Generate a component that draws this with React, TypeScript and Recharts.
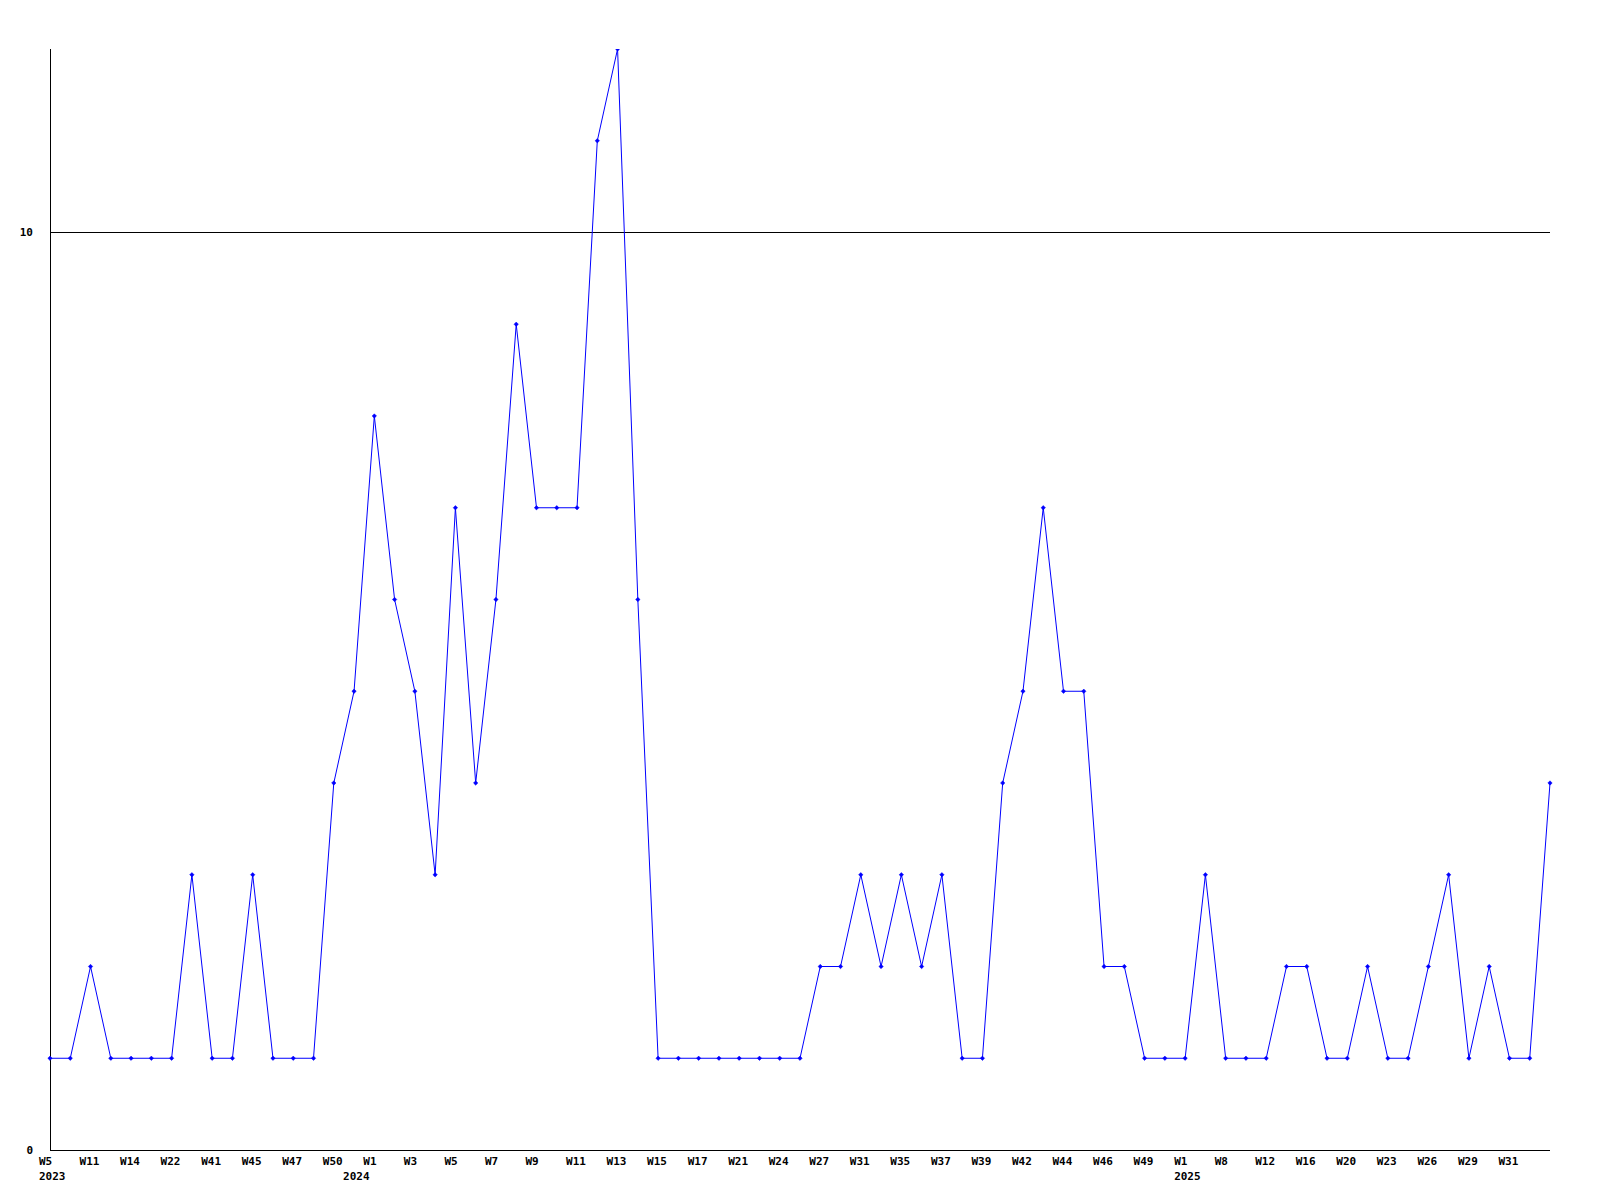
import React from 'react';
import { LineChart, Line, XAxis, YAxis, ReferenceLine } from 'recharts';

const weeks = [
  'W5', 'W8', 'W11', 'W13', 'W14', 'W18', 'W22', 'W30', 'W41', 'W43',
  'W45', 'W46', 'W47', 'W48', 'W50', 'W52', 'W1', 'W2', 'W3', 'W4',
  'W5', 'W6', 'W7', 'W8', 'W9', 'W10', 'W11', 'W12', 'W13', 'W14',
  'W15', 'W16', 'W17', 'W19', 'W21', 'W22', 'W24', 'W26', 'W27', 'W29',
  'W31', 'W33', 'W35', 'W36', 'W37', 'W38', 'W39', 'W40', 'W42', 'W43',
  'W44', 'W45', 'W46', 'W47', 'W49', 'W51', 'W1', 'W4', 'W8', 'W10',
  'W12', 'W14', 'W16', 'W18', 'W20', 'W21', 'W23', 'W24', 'W26', 'W27',
  'W29', 'W30', 'W31', 'W32', 'W34',
];

const counts = [
  1, 1, 2, 1, 1, 1, 1, 3, 1, 1,
  3, 1, 1, 1, 4, 5, 8, 6, 5, 3,
  7, 4, 6, 9, 7, 7, 7, 11, 12, 6,
  1, 1, 1, 1, 1, 1, 1, 1, 2, 2,
  3, 2, 3, 2, 3, 1, 1, 4, 5, 7,
  5, 5, 2, 2, 1, 1, 1, 3, 1, 1,
  1, 2, 2, 1, 1, 2, 1, 1, 2, 3,
  1, 2, 1, 1, 4,
];

const yearMarks: Record<number, string> = { 0: '2023', 15: '2024', 56: '2025' };
const yTicks = [0, 10];

const data = weeks.map((w, i) => ({ idx: i, week: w, value: counts[i] }));

const FONT = '"DejaVu Sans Mono", "Liberation Mono", monospace';

const XTick = (props: any) => {
  const { x, y, payload, index } = props;
  const i = payload?.index ?? index;
  const showWeek = i % 2 === 0 && i < weeks.length - 1;
  const year = yearMarks[i];
  return (
    <g>
      {showWeek && (
        <text x={x - 11} y={y} dy="0.71em" textAnchor="start" fontFamily={FONT} fontSize={11} fontWeight="bold" fill="#000">
          {weeks[i]}
        </text>
      )}
      {year && (
        <text x={x - 11} y={y + 15} dy="0.71em" textAnchor="start" fontFamily={FONT} fontSize={11} fontWeight="bold" fill="#000">
          {year}
        </text>
      )}
    </g>
  );
};

const Diamond = (props: any) => {
  const { cx, cy } = props;
  if (cx == null || cy == null) return null;
  const r = 2.2;
  return <polygon points={`${cx},${cy - r} ${cx + r},${cy} ${cx},${cy + r} ${cx - r},${cy}`} fill="#0000ff" stroke="#0000ff" strokeWidth={0.5} />;
};

export default function App() {
  return (
    <div style={{ position: 'absolute', left: 0, top: 0, width: 1600, height: 1200, background: '#fff' }}>
      <LineChart width={1600} height={1200} data={data} margin={{ top: 49, right: 50, bottom: 0, left: 0 }}>
        <XAxis
          dataKey="idx"
          type="category"
          interval={0}
          tickLine={false}
          tickSize={0}
          tickMargin={7}
          axisLine={{ stroke: '#000', strokeWidth: 1, shapeRendering: 'crispEdges' }}
          tick={<XTick />}
          height={50}
          padding={{ left: 0, right: 0 }}
        />
        <YAxis
          type="number"
          domain={[0, 12]}
          ticks={yTicks}
          width={50}
          tickLine={false}
          tickSize={0}
          tickMargin={17}
          axisLine={{ stroke: '#000', strokeWidth: 1, shapeRendering: 'crispEdges' }}
          tick={{ fontFamily: FONT, fontSize: 11, fontWeight: 'bold', fill: '#000' }}
          allowDataOverflow
        />
        <ReferenceLine y={10} stroke="#000" strokeWidth={1} shapeRendering="crispEdges" />
        <Line
          type="linear"
          dataKey="value"
          stroke="#0000ff"
          strokeWidth={1}
          dot={<Diamond />}
          activeDot={false}
          isAnimationActive={false}
        />
      </LineChart>
    </div>
  );
}
